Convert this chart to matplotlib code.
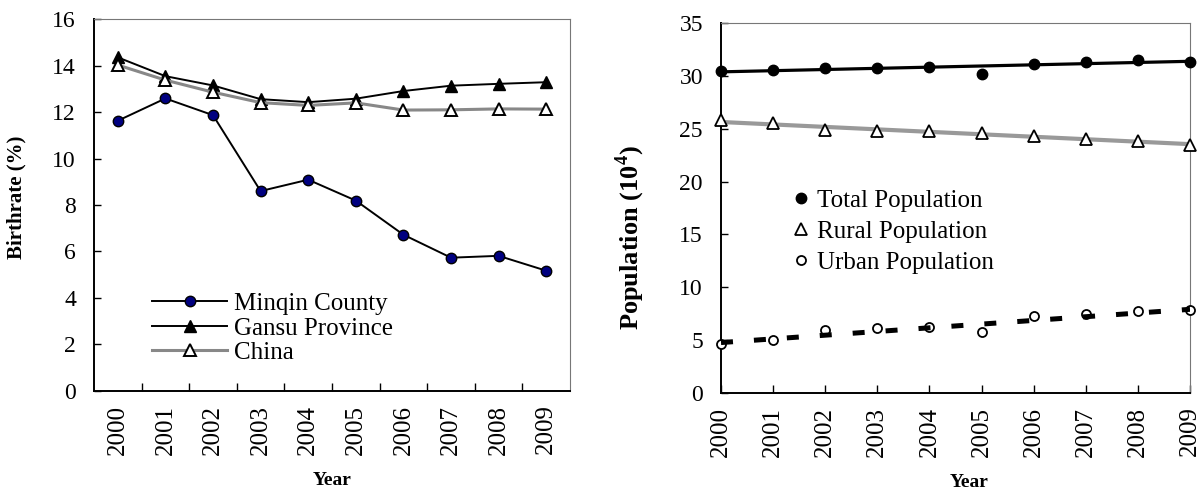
import numpy as np
import matplotlib
matplotlib.use("Agg")
import matplotlib.pyplot as plt

plt.rcParams['font.family'] = ['Liberation Serif', 'DejaVu Serif']
plt.rcParams['mathtext.fontset'] = 'custom'
plt.rcParams['mathtext.rm'] = 'Liberation Serif'
plt.rcParams['mathtext.bf'] = 'Liberation Serif:bold'

years = [2000, 2001, 2002, 2003, 2004, 2005, 2006, 2007, 2008, 2009]

# birthrate (left)
minqin = [11.63, 12.59, 11.87, 8.60, 9.09, 8.19, 6.72, 5.73, 5.81, 5.17]
gansu = [14.36, 13.55, 13.15, 12.56, 12.43, 12.58, 12.91, 13.14, 13.22, 13.29]
china = [14.03, 13.38, 12.86, 12.41, 12.29, 12.40, 12.09, 12.10, 12.14, 12.13]

# population (right), 10^4
total = [30.46, 30.62, 30.78, 30.78, 30.84, 30.21, 31.16, 31.31, 31.50, 31.35]
rural = [25.86, 25.54, 24.91, 24.76, 24.76, 24.57, 24.28, 24.03, 23.84, 23.46]
urban = [4.64, 5.01, 5.90, 6.12, 6.24, 5.74, 7.22, 7.50, 7.73, 7.88]

# trend lines, end points
trend_years = [2000, 2009]
total_trend = [30.4, 31.4]
rural_trend = [25.65, 23.55]
urban_trend = [4.75, 7.9]

fig = plt.figure(figsize=(12.01, 4.92), dpi=100)
W, H = 1201, 492

def axes_px(x0, x1, y0, y1):
    return fig.add_axes([x0 / W, 1 - y1 / H, (x1 - x0) / W, (y1 - y0) / H])

# ---------------- left chart
ax1 = axes_px(94, 570, 19.3, 390.7)
x = np.arange(len(years))
ax1.plot(x, china, color='#888888', lw=2.2, marker='^', ms=8.5,
         mfc='white', mec='black', mew=1.4, label='China', zorder=3)
ax1.plot(x, gansu, color='black', lw=1.4, marker='^', ms=8.5,
         mfc='black', mec='black', label='Gansu Province', zorder=2)
ax1.plot(x, minqin, color='black', lw=1.4, marker='o', ms=7.5,
         mfc='#000080', mec='black', mew=1.0, label='Minqin County', zorder=4)

ax1.set_xlim(-0.5, 9.5)
ax1.set_ylim(0, 16)
ax1.set_yticks(range(0, 17, 2))
ax1.set_xticks(np.arange(0.5, 9, 1))
ax1.set_xticklabels([])
ax1.set_xticks(x, minor=True)
ax1.set_xticklabels([str(y) for y in years], minor=True, rotation=90, fontsize=18)
ax1.tick_params(axis='x', which='major', direction='in', length=6, width=1)
ax1.tick_params(axis='x', which='minor', length=0, pad=10)
ax1.tick_params(axis='y', direction='in', length=5, width=1, pad=13, labelsize=17)
for s in ['top', 'right']:
    ax1.spines[s].set_color('#777777')
    ax1.spines[s].set_linewidth(0.8)
for s in ['left', 'bottom']:
    ax1.spines[s].set_linewidth(1.4)
ax1.set_ylabel('Birthrate (%)', fontsize=15, fontweight='bold')
ax1.yaxis.set_label_coords(-0.141, 0.52)
ax1.set_xlabel('Year', fontsize=14, fontweight='bold')
ax1.xaxis.set_label_coords(0.5, -0.22)

h, l = ax1.get_legend_handles_labels()
ax1.legend(h[::-1], l[::-1], loc='center left', bbox_to_anchor=(0.122, 0.168),
           frameon=False, fontsize=18, handlelength=3.0, handletextpad=0.28,
           labelspacing=0.08, borderpad=0, borderaxespad=0)

# ---------------- right chart
ax2 = axes_px(721, 1190, 23.3, 392.7)
ax2.plot(trend_years, total_trend, color='black', lw=2.3, zorder=2)
ax2.plot(trend_years, rural_trend, color='#999999', lw=3.0, zorder=2)
ax2.plot(years, total, ls='none', marker='o', ms=7.5, color='black',
         label='Total Population', clip_on=False, zorder=4)
ax2.plot(years, rural, ls='none', marker='^', ms=8, mfc='white', mec='black',
         mew=1.3, label='Rural Population', clip_on=False, zorder=4)
ax2.plot(years, urban, ls='none', marker='o', ms=6.5, mfc='white', mec='black',
         mew=1.3, label='Urban Population', clip_on=False, zorder=3)
ax2.plot(trend_years, urban_trend, color='black', lw=3.6, dashes=(2.4, 4.2),
         zorder=3.5)

ax2.set_xlim(2000, 2009)
ax2.set_ylim(0, 35)
ax2.set_yticks(range(0, 36, 5))
ax2.set_xticks(years)
ax2.set_xticklabels([str(y) for y in years], rotation=90, fontsize=18)
ax2.tick_params(axis='x', direction='in', length=6, width=1, pad=10)
ax2.tick_params(axis='y', direction='in', length=5, width=1, pad=13, labelsize=17)
for s in ['top', 'right']:
    ax2.spines[s].set_color('#777777')
    ax2.spines[s].set_linewidth(0.8)
for s in ['left', 'bottom']:
    ax2.spines[s].set_linewidth(1.4)
ax2.set_ylabel(r'Population (10$^{\mathbf{4}}$)', fontsize=19, fontweight='bold')
ax2.yaxis.set_label_coords(-0.158, 0.42)
ax2.set_xlabel('Year', fontsize=14, fontweight='bold')
ax2.xaxis.set_label_coords(0.53, -0.22)

ax2.legend(loc='center left', bbox_to_anchor=(0.154, 0.436), frameon=False,
           fontsize=18, handlelength=0.6, handletextpad=0.35,
           labelspacing=0.33, borderpad=0, borderaxespad=0)

fig.savefig('out.png', dpi=100)
